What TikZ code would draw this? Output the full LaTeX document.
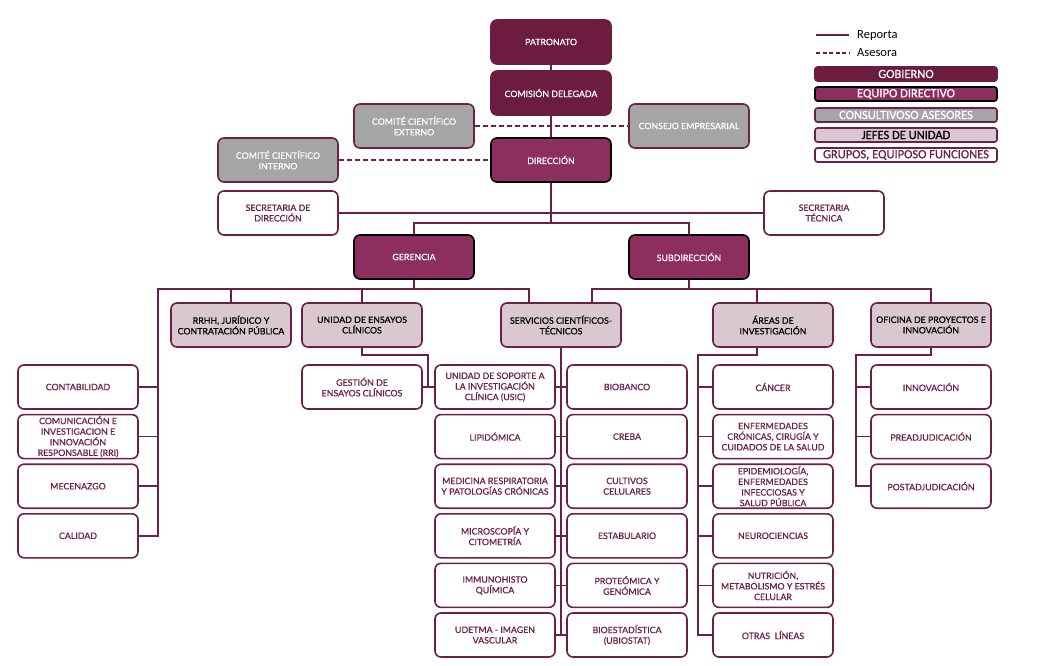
\documentclass[tikz,border=0pt]{standalone}
\usepackage{fontspec}
\setmainfont{Carlito}
\newfontfamily\boxfamily[FakeBold=0.7]{Lato}
\newfontfamily\legfamily[FakeBold=0.7]{Carlito}
\usetikzlibrary{positioning}
\definecolor{gobierno}{HTML}{6B1C3F}
\definecolor{directivo}{HTML}{8C2F5F}
\definecolor{consultivo}{HTML}{A5A5A5}
\definecolor{jefe}{HTML}{D9C8CF}
\definecolor{linea}{HTML}{6E1F47}
\tikzset{node distance=4pt}

\begin{document}
\begin{tikzpicture}[
            x=1pt, y=-1pt,
            box/.style={rounded corners=6pt, minimum width=120pt, minimum height=44pt,
                line width=1.6pt, inner xsep=1pt, inner ysep=0pt, align=center,
                font=\boxfamily\fontsize{8.8}{10.6}\selectfont},
            gob/.style={box, fill=gobierno, draw=gobierno, text=white},
            dir/.style={box, fill=directivo, draw=black, text=white},
            ase/.style={box, fill=consultivo, draw=linea, text=white},
            jef/.style={box, fill=jefe, draw=linea, text=black},
            grp/.style={box, fill=white, draw=linea, text=linea},
            legbox/.style={rounded corners=2.5pt, minimum width=182pt, minimum height=14pt,
                line width=1.6pt, inner sep=0pt, font=\legfamily\fontsize{12.5}{13}\selectfont},
            reporta/.style={draw=linea, line width=1.6pt},
            asesora/.style={reporta, dash pattern=on 5pt off 3pt}
            ]
            \useasboundingbox (0,0) rectangle (1039,665);

            % gobierno y direccion
            \node[gob] (patronato) at (551,42) {PATRONATO};
            \node[gob] (comision) at (551,93) {COMISIÓN DELEGADA};
            \node[ase] (externo) at (414,126) {COMITÉ CIENTÍFICO\\EXTERNO};
            \node[ase] (consejo) at (689,126) {CONSEJO EMPRESARIAL};
            \node[ase] (interno) at (278,160) {COMITÉ CIENTÍFICO\\INTERNO};
            \node[dir] (direccion) at (551,160) {DIRECCIÓN};
            \node[grp] (secdir) at (278,213) {SECRETARIA DE\\DIRECCIÓN};
            \node[grp] (sectec) at (824,213) {SECRETARIA\\TÉCNICA};
            \node[dir] (gerencia) at (414,257) {GERENCIA};
            \node[dir] (subdir) at (689,257) {SUBDIRECCIÓN};

            % jefes de unidad
            \node[jef] (rrhh) at (231,325) {RRHH, JURÍDICO Y\\CONTRATACIÓN PÚBLICA};
            \node[jef] (ensayos) at (362,325) {UNIDAD DE ENSAYOS\\CLÍNICOS};
            \node[jef] (servicios) at (561,325) {SERVICIOS CIENTÍFICOS-\\TÉCNICOS};
            \node[jef] (areas) at (773,325) {ÁREAS DE\\INVESTIGACIÓN};
            \node[jef] (oficina) at (931,325) {OFICINA DE PROYECTOS E\\INNOVACIÓN};

            % gerencia
            \node[grp] (contabilidad) at (78,387) {CONTABILIDAD};
            \node[grp, below=of contabilidad] (comunicacion) {COMUNICACIÓN E\\INVESTIGACION E\\INNOVACIÓN\\RESPONSABLE (RRI)};
            \node[grp, below=of comunicacion] (mecenazgo) {MECENAZGO};
            \node[grp, below=of mecenazgo] (calidad) {CALIDAD};
            \node[grp] (gestion) at (362,387) {GESTIÓN DE\\ENSAYOS CLÍNICOS};

            % servicios cientifico-tecnicos
            \node[grp] (usic) at (495,387) {UNIDAD DE SOPORTE A\\LA INVESTIGACIÓN\\CLÍNICA (USIC)};
            \node[grp, below=of usic] (lipidomica) {LIPIDÓMICA};
            \node[grp, below=of lipidomica] (respiratoria) {MEDICINA RESPIRATORIA\\Y PATOLOGÍAS CRÓNICAS};
            \node[grp, below=of respiratoria] (microscopia) {MICROSCOPÍA Y\\CITOMETRÍA};
            \node[grp, below=of microscopia] (immuno) {IMMUNOHISTO\\QUÍMICA};
            \node[grp, below=of immuno] (udetma) {UDETMA - IMAGEN\\VASCULAR};
            \node[grp] (biobanco) at (627,387) {BIOBANCO};
            \node[grp, below=of biobanco] (creba) {CREBA};
            \node[grp, below=of creba] (cultivos) {CULTIVOS\\CELULARES};
            \node[grp, below=of cultivos] (estabulario) {ESTABULARIO};
            \node[grp, below=of estabulario] (proteomica) {PROTEÓMICA Y\\GENÓMICA};
            \node[grp, below=of proteomica] (bioestadistica) {BIOESTADÍSTICA\\(UBIOSTAT)};

            % areas de investigacion
            \node[grp] (cancer) at (773,387) {CÁNCER};
            \node[grp, below=of cancer] (cronicas) {ENFERMEDADES\\CRÓNICAS, CIRUGÍA Y\\CUIDADOS DE LA SALUD};
            \node[grp, below=of cronicas] (epidemiologia) {EPIDEMIOLOGÍA,\\ENFERMEDADES\\INFECCIOSAS Y\\SALUD PÚBLICA};
            \node[grp, below=of epidemiologia] (neurociencias) {NEUROCIENCIAS};
            \node[grp, below=of neurociencias] (nutricion) {NUTRICIÓN,\\METABOLISMO Y ESTRÉS\\CELULAR};
            \node[grp, below=of nutricion] (otras) {OTRAS\ \ LÍNEAS};

            % oficina de proyectos
            \node[grp] (innovacion) at (931,387) {INNOVACIÓN};
            \node[grp, below=of innovacion] (preadj) {PREADJUDICACIÓN};
            \node[grp, below=of preadj] (postadj) {POSTADJUDICACIÓN};

            % conexiones
            \coordinate (dsplit) at (551,223);
            \coordinate (gbus) at (414,289);
            \coordinate (gtrunk) at (158,289);
            \coordinate (sbus) at (689,289);
            \coordinate (ejoin) at (428,355);
            \coordinate (atrunk) at (698,355);
            \coordinate (otrunk) at (856,355);

            \draw[reporta] (patronato) -- (comision);
            \draw[reporta] (comision) -- (direccion);
            \draw[asesora] (externo) -- (consejo);
            \draw[asesora] (interno) -- (direccion);
            \draw[reporta] (direccion) -- (dsplit);
            \draw[reporta] (secdir) -- (sectec);
            \draw[reporta] (gerencia.north) |- (dsplit) -| (subdir.north);

            \draw[reporta] (gerencia) -- (gbus);
            \draw[reporta] ([xshift=-32pt]servicios.north) |- (gtrunk) |- (calidad.east);
            \draw[reporta] (rrhh) -- (rrhh |- gbus);
            \draw[reporta] (ensayos) -- (ensayos |- gbus);
            \draw[reporta] (contabilidad) -- (contabilidad -| gtrunk);
            \draw[reporta] (comunicacion) -- (comunicacion -| gtrunk);
            \draw[reporta] (mecenazgo) -- (mecenazgo -| gtrunk);
            \draw[reporta] (ensayos.south) |- (ejoin) |- (gestion.east);
            \draw[reporta] (gestion) -- (usic);

            \draw[reporta] (subdir) -- (sbus);
            \draw[reporta] ([xshift=31pt]servicios.north) |- (sbus) -| (oficina.north);
            \draw[reporta] ([xshift=-16pt]areas.north) -- ([xshift=-16pt]areas.north |- sbus);

            \draw[reporta] (servicios) -- (servicios |- udetma);
            \draw[reporta] (usic) -- (biobanco);
            \draw[reporta] (lipidomica) -- (creba);
            \draw[reporta] (respiratoria) -- (cultivos);
            \draw[reporta] (microscopia) -- (estabulario);
            \draw[reporta] (immuno) -- (proteomica);
            \draw[reporta] (udetma) -- (bioestadistica);

            \draw[reporta] ([xshift=-16pt]areas.south) |- (atrunk) |- (otras.west);
            \draw[reporta] (cancer) -- (cancer -| atrunk);
            \draw[reporta] (cronicas) -- (cronicas -| atrunk);
            \draw[reporta] (epidemiologia) -- (epidemiologia -| atrunk);
            \draw[reporta] (neurociencias) -- (neurociencias -| atrunk);
            \draw[reporta] (nutricion) -- (nutricion -| atrunk);

            \draw[reporta] (oficina.south) |- (otrunk) |- (postadj.west);
            \draw[reporta] (innovacion) -- (innovacion -| otrunk);
            \draw[reporta] (preadj) -- (preadj -| otrunk);

            % leyenda
            \node[anchor=west, inner sep=0pt, font=\fontsize{12.5}{13}\selectfont] (lreporta) at (857,35) {Reporta};
            \node[anchor=west, inner sep=0pt, font=\fontsize{12.5}{13}\selectfont] (lasesora) at (857,53) {Asesora};
            \coordinate (lra) at (816,35);
            \coordinate (laa) at (816,53);
            \draw[reporta] (lra) -- ([xshift=-8pt]lreporta.west);
            \draw[asesora, dash pattern=on 4pt off 2.5pt] (laa) -- ([xshift=-8pt]lasesora.west);
            \node[legbox, fill=gobierno, draw=gobierno, text=white] (lgob) at (906,74) {GOBIERNO};
            \node[legbox, fill=directivo, draw=black, text=white] (ldir) at (906,94) {EQUIPO DIRECTIVO};
            \node[legbox, fill=consultivo, draw=linea, text=white] (lase) at (906,115) {CONSULTIVOSO ASESORES};
            \node[legbox, fill=jefe, draw=linea, text=black] (ljef) at (906,135) {JEFES DE UNIDAD};
            \node[legbox, fill=white, draw=linea, text=linea] (lgrp) at (906,155) {GRUPOS, EQUIPOSO FUNCIONES};
        \end{tikzpicture}
\end{document}
